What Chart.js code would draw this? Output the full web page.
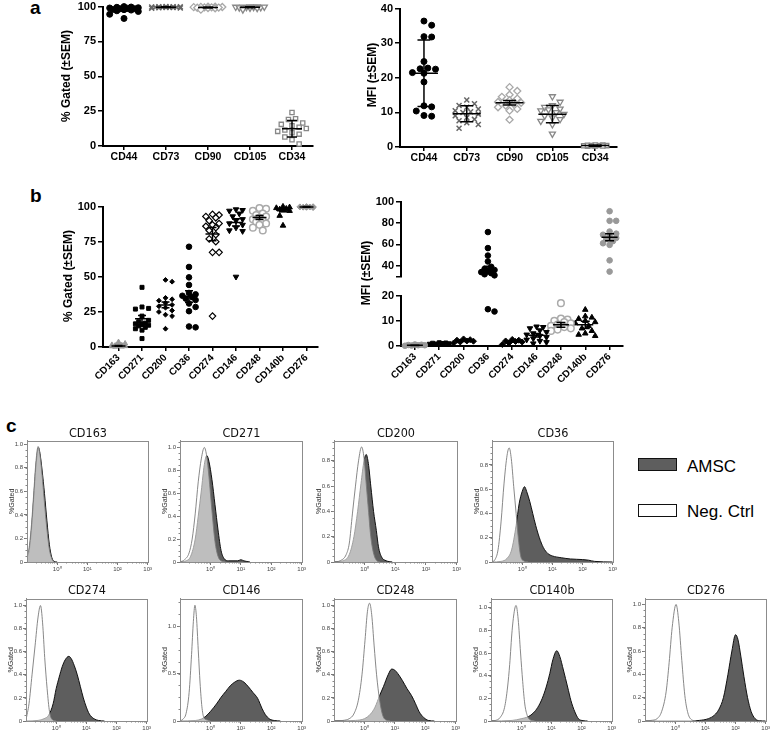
<!DOCTYPE html>
<html>
<head>
<meta charset="utf-8">
<script src="https://cdn.jsdelivr.net/npm/chart.js@4.4.1/dist/chart.umd.min.js"></script>
<style>
  body { margin: 0; background: #fff; font-family: Arial, 'Liberation Sans', sans-serif; }
  #stage { position: relative; width: 778px; height: 734px; overflow: hidden; background: #fff; }
  #stage canvas { position: absolute; }
  .lbl { position: absolute; white-space: nowrap; line-height: 1; color: #000; }
  .ytitle { font-weight: bold; font-size: 12px; transform: translate(-50%, -50%) rotate(-90deg); }
  .panel { font-weight: bold; font-size: 19px; }
  .htitle { font-family: 'Liberation Sans Narrow', 'DejaVu Sans Condensed', 'Open Sans', sans-serif; font-size: 12.5px; transform: translate(-50%, -50%); color: #111; }
  .swatch { position: absolute; width: 37px; height: 11px; border: 1.5px solid #111; }
  .legtxt { font-size: 17px; transform: translateY(-50%); }
</style>
</head>
<body>
<div id="stage"></div>
<script>
const stage = document.getElementById('stage');
Chart.defaults.font.family = "Arial, 'Liberation Sans', sans-serif";
Chart.defaults.color = '#000';

// ---- panel a ----
const aCats = ['CD44', 'CD73', 'CD90', 'CD105', 'CD34'];
const gatedTicks = [0, 25, 50, 75, 100];
const aGated = [
  [100, 99.5, 99.2, 99, 98.8, 98.5, 98.5, 98, 97.8, 97.5, 97, 99.7, 96.5, 94.5, 91.5],
  [100, 99.9, 99.8, 99.7, 99.6, 99.5, 99.5, 99.4, 99.3, 99.2, 99, 98.8, 99.9, 99.6],
  [100, 99.9, 99.8, 99.6, 99.5, 99.4, 99.2, 99, 98.8, 99.7, 99.3, 97.8],
  [100, 99.9, 99.8, 99.7, 99.5, 99.4, 99.3, 99.1, 98.9, 99.6, 99.8, 97.8],
  [24, 19.5, 19, 16.5, 15.5, 14.5, 13.5, 12.5, 11.5, 10.5, 9.5, 8.5, 6.5, 4.5, 1.5]
];
const aGatedMean = [98, 99.6, 99.4, 99.5, 12.4];
const aGatedErr = [1.2, 0.3, 0.4, 0.4, 5.9];

const aMfiTicks = [0, 10, 20, 30, 40];
const aMfi = [
  [36.4, 35.2, 31.9, 31.8, 24.7, 22.8, 22.6, 22.5, 21.5, 21.3, 18.8, 11.9, 11.6, 10.4, 9.1, 8.9],
  [13.6, 12.5, 12, 11.5, 11, 10.5, 10.2, 10, 9.5, 9, 8.5, 8, 7.6, 7, 6.5, 5.4],
  [17.3, 16.2, 15.1, 14.5, 14, 13.5, 13, 12.8, 12.5, 12, 11.5, 11, 10.5, 7.9],
  [14.6, 13, 12, 11.5, 11, 10.8, 10.5, 10, 9.5, 9, 8.5, 8, 7.5, 6.5, 3.8],
  [0.2, 0.3, 0.35, 0.4, 0.45, 0.5, 0.55, 0.6, 0.3, 0.4]
];
const aMfiMean = [21.3, 9.6, 12.8, 9.5, 0.4];
const aMfiErr = [9.6, 2.3, 0.65, 2.5, 0.2];

// ---- panel b ----
const bCats = ['CD163', 'CD271', 'CD200', 'CD36', 'CD274', 'CD146', 'CD248', 'CD140b', 'CD276'];
const bGated = [
  [3.5, 2.5, 1.5, 1, 0.8, 0.5, 0.3, 0.2, 0.6, 1.2],
  [42.5, 28.5, 27.5, 27, 22, 19, 18, 17, 16.5, 16, 15.5, 15, 14, 13, 12, 6],
  [47.8, 46.5, 35, 34, 33, 31.5, 30, 29, 28, 26, 25, 23, 22, 13],
  [71.4, 57, 49.6, 44.2, 38.5, 37.5, 36.5, 35.5, 34.5, 33.5, 31, 28.5, 25.5, 14.6, 14],
  [94.5, 94, 93, 92, 90, 88, 87, 86, 85, 83, 80, 77, 75, 67.4, 67.4, 22],
  [98, 97.5, 97, 95, 93, 91, 90, 88, 87, 85, 83, 82.5, 50],
  [99, 98.5, 97, 95, 94, 93, 92, 91, 90, 89, 88, 87, 85, 83],
  [100, 99.5, 99, 98.5, 98, 97.5, 97, 93.5, 86.5],
  [100, 99.8, 99.6, 99.5, 99.3, 99.9, 99.7]
];
const bGatedMean = [0.8, 20.1, 30, 35.9, 80.4, 88.7, 92.2, 97.6, 99.8];
const bGatedErr = [0.3, 2.4, 2, 4.1, 4.7, 2.6, 1.4, 1.2, 0.2];

const bMfiUpperTicks = [40, 60, 80, 100];
const bMfiLowerTicks = [0, 5, 10, 15, 20];
const bMfi = [
  [0.1, 0.2, 0.3, 0.4, 0.5, 0.6, 0.3],
  [0.7, 0.9, 1.0, 1.1, 1.2, 1.3, 0.8],
  [1.2, 1.6, 2.0, 2.3, 2.5, 2.8, 1.9],
  [71.5, 56.5, 49.5, 44, 39, 37, 36, 35, 34, 33, 32, 31, 14.6, 13.7],
  [0.6, 1.2, 1.6, 2.0, 2.3, 2.6, 1.8],
  [7.7, 7.5, 7, 6.2, 5.5, 5, 4.5, 4, 3.5, 3, 2.5, 2, 1.5, 1],
  [17, 10.9, 10.5, 10, 9.5, 9, 8.5, 8, 7.5, 7, 6.5, 6],
  [14.4, 11.8, 11.3, 10.8, 10, 9.5, 9, 8, 7, 6, 5, 4.5, 4],
  [91, 82, 82, 72, 70, 69, 68, 66, 65, 63, 61, 59.5, 45, 34.5]
];
const bMfiMean = [0.3, 1.0, 2.1, 36, 1.8, 4.3, 8.4, 8.4, 66.7];
const bMfiErr = [0.1, 0.1, 0.3, 3.6, 0.3, 0.7, 0.95, 1.45, 3.3];

// ---- panel c: histograms, [log10 intensity, fraction] ----
const logTicks = [0, 1, 2, 3];
const yTicks1 = [0, 0.2, 0.4, 0.6, 0.8, 1];
const yTicks08 = [0, 0.2, 0.4, 0.6, 0.8];
const yTicks05 = [0, 0.5, 1];

const negCD163 = [[-1,0.04],[-0.92,0.14],[-0.85,0.32],[-0.78,0.57],[-0.7,0.86],[-0.63,0.98],[-0.58,0.93],[-0.5,0.74],[-0.42,0.5],[-0.34,0.28],[-0.26,0.11],[-0.18,0.03],[-0.1,0]];
const amscCD163 = [[-1,0.03],[-0.92,0.11],[-0.85,0.28],[-0.78,0.53],[-0.7,0.82],[-0.62,0.97],[-0.57,0.92],[-0.5,0.78],[-0.42,0.58],[-0.34,0.35],[-0.26,0.15],[-0.18,0.04],[-0.1,0.005],[0,0]];
const negCD271 = [[-1,0],[-0.85,0.02],[-0.7,0.08],[-0.6,0.2],[-0.5,0.42],[-0.4,0.7],[-0.3,0.9],[-0.2,1.0],[-0.12,0.92],[-0.05,0.75],[0.05,0.45],[0.15,0.18],[0.25,0.05],[0.35,0.01],[0.5,0]];
const amscCD271 = [[-1,0],[-0.8,0.01],[-0.65,0.05],[-0.5,0.2],[-0.4,0.4],[-0.3,0.62],[-0.2,0.85],[-0.12,0.93],[-0.05,0.88],[0.05,0.72],[0.15,0.5],[0.25,0.28],[0.35,0.1],[0.45,0.03],[0.6,0.01],[0.9,0.01],[1.0,0.02],[1.1,0.01],[1.3,0]];
const negCD200 = [[-1,0],[-0.8,0.01],[-0.6,0.06],[-0.5,0.15],[-0.4,0.38],[-0.3,0.6],[-0.2,0.8],[-0.1,0.91],[-0.02,0.82],[0.05,0.62],[0.12,0.42],[0.2,0.2],[0.3,0.06],[0.4,0.01],[0.5,0]];
const amscCD200 = [[-1,0],[-0.7,0.01],[-0.5,0.06],[-0.35,0.2],[-0.23,0.4],[-0.12,0.62],[-0.02,0.8],[0.05,0.85],[0.12,0.78],[0.2,0.6],[0.29,0.4],[0.38,0.25],[0.45,0.12],[0.55,0.04],[0.7,0.01],[0.9,0]];
const negCD36 = [[-1,0],[-0.9,0.02],[-0.8,0.1],[-0.7,0.33],[-0.6,0.65],[-0.5,0.88],[-0.43,0.94],[-0.36,0.85],[-0.28,0.62],[-0.2,0.4],[-0.12,0.18],[-0.05,0.05],[0.05,0.01],[0.2,0]];
const amscCD36 = [[-1,0],[-0.7,0.005],[-0.5,0.03],[-0.35,0.1],[-0.2,0.3],[-0.1,0.48],[0,0.58],[0.08,0.62],[0.15,0.58],[0.25,0.5],[0.35,0.4],[0.45,0.3],[0.57,0.2],[0.7,0.12],[0.85,0.07],[1.0,0.05],[1.3,0.035],[1.6,0.025],[2.0,0.02],[2.2,0.015],[2.4,0.005],[3,0]];
const negCD274 = [[-1,0.01],[-0.9,0.15],[-0.8,0.4],[-0.7,0.65],[-0.6,0.9],[-0.52,1.0],[-0.45,0.85],[-0.38,0.55],[-0.3,0.28],[-0.22,0.08],[-0.12,0.01],[0,0]];
const amscCD274 = [[-1,0],[-0.6,0.005],[-0.4,0.02],[-0.25,0.05],[-0.1,0.15],[0,0.28],[0.1,0.38],[0.2,0.47],[0.3,0.53],[0.42,0.56],[0.5,0.54],[0.6,0.48],[0.7,0.4],[0.8,0.3],[0.9,0.2],[1.0,0.12],[1.1,0.06],[1.25,0.02],[1.4,0.005],[1.6,0]];
const negCD146 = [[-1,0],[-0.9,0.02],[-0.8,0.08],[-0.7,0.3],[-0.62,0.7],[-0.56,1.05],[-0.51,1.22],[-0.46,1.1],[-0.4,0.75],[-0.34,0.4],[-0.28,0.15],[-0.22,0.04],[-0.1,0.01],[0,0]];
const amscCD146 = [[-1,0],[-0.5,0.005],[-0.3,0.02],[-0.15,0.05],[0,0.1],[0.2,0.18],[0.35,0.25],[0.5,0.31],[0.65,0.37],[0.8,0.41],[0.95,0.43],[1.1,0.41],[1.25,0.36],[1.4,0.3],[1.55,0.24],[1.7,0.13],[1.8,0.07],[1.95,0.02],[2.1,0.005],[2.3,0]];
const negCD248 = [[-1,0],[-0.7,0.005],[-0.5,0.02],[-0.35,0.06],[-0.2,0.18],[-0.08,0.4],[0.02,0.7],[0.1,0.95],[0.17,1.02],[0.24,0.92],[0.32,0.65],[0.4,0.4],[0.5,0.18],[0.6,0.05],[0.7,0.01],[0.85,0]];
const amscCD248 = [[-1,0],[-0.3,0.005],[0,0.02],[0.2,0.06],[0.35,0.12],[0.5,0.22],[0.63,0.3],[0.78,0.4],[0.9,0.45],[1.0,0.44],[1.1,0.41],[1.25,0.35],[1.4,0.28],[1.55,0.22],[1.68,0.15],[1.8,0.08],[1.95,0.03],[2.1,0.005],[2.3,0]];
const negCD140b = [[-1,0],[-0.85,0.005],[-0.7,0.03],[-0.55,0.12],[-0.45,0.3],[-0.38,0.5],[-0.3,0.8],[-0.22,0.98],[-0.17,1.02],[-0.1,0.9],[-0.02,0.6],[0.05,0.35],[0.12,0.15],[0.2,0.05],[0.3,0.01],[0.45,0]];
const amscCD140b = [[-1,0],[-0.3,0.005],[0,0.02],[0.25,0.04],[0.4,0.07],[0.55,0.12],[0.7,0.2],[0.83,0.3],[0.95,0.42],[1.05,0.54],[1.18,0.62],[1.28,0.57],[1.4,0.45],[1.54,0.3],[1.65,0.18],[1.78,0.08],[1.9,0.02],[2.05,0.003],[2.2,0]];
const negCD276 = [[-1,0],[-0.8,0.005],[-0.6,0.02],[-0.45,0.08],[-0.3,0.25],[-0.2,0.5],[-0.1,0.8],[0.03,1.0],[0.12,0.85],[0.22,0.52],[0.32,0.22],[0.42,0.07],[0.55,0.01],[0.7,0]];
const amscCD276 = [[-1,0],[0.5,0],[0.8,0.005],[1.1,0.02],[1.3,0.05],[1.45,0.1],[1.6,0.2],[1.75,0.4],[1.88,0.6],[2.0,0.74],[2.08,0.7],[2.18,0.55],[2.28,0.38],[2.4,0.2],[2.52,0.08],[2.65,0.02],[2.8,0.002],[3,0]];

// marker styles per category
const aStyles = [
  { ps: 'circle', fill: '#000', stroke: '#000', r: 3 },
  { ps: 'crossRot', fill: '#666', stroke: '#666', r: 3.5, bw: 1.5 },
  { ps: 'rectRot', fill: '#fff', stroke: '#a8a8a8', r: 3.5, bw: 1.3 },
  { ps: 'triangle', rot: 180, fill: '#fff', stroke: '#888', r: 3.5, bw: 1.3 },
  { ps: 'rect', fill: '#fff', stroke: '#888', r: 3, bw: 1.3 }
];
const bGatedStyles = [
  { ps: 'triangle', fill: '#999', stroke: '#999', r: 3 },
  { ps: 'rect', fill: '#000', stroke: '#000', r: 2.8 },
  { ps: 'rectRot', fill: '#000', stroke: '#000', r: 2.4 },
  { ps: 'circle', fill: '#000', stroke: '#000', r: 2.8 },
  { ps: 'rectRot', fill: '#fff', stroke: '#000', r: 3.2, bw: 1.2 },
  { ps: 'triangle', rot: 180, fill: '#000', stroke: '#000', r: 3.2 },
  { ps: 'circle', fill: '#fff', stroke: '#aaa', r: 3.3, bw: 1.5 },
  { ps: 'triangle', fill: '#000', stroke: '#000', r: 3.2 },
  { ps: 'rectRot', fill: '#999', stroke: '#999', r: 3 }
];
const bMfiStyles = [
  { ps: 'circle', fill: '#999', stroke: '#999', r: 2.8 },
  { ps: 'rect', fill: '#000', stroke: '#000', r: 2.8 },
  { ps: 'rectRot', fill: '#000', stroke: '#000', r: 3 },
  { ps: 'circle', fill: '#000', stroke: '#000', r: 2.8 },
  { ps: 'rectRot', fill: '#000', stroke: '#000', r: 3 },
  { ps: 'triangle', rot: 180, fill: '#000', stroke: '#000', r: 3.2 },
  { ps: 'circle', fill: '#fff', stroke: '#aaa', r: 3.3, bw: 1.5 },
  { ps: 'triangle', fill: '#000', stroke: '#000', r: 3.2 },
  { ps: 'circle', fill: '#999', stroke: '#999', r: 2.8 }
];

// mean line + error bar for each category
const meanBars = {
  id: 'meanBars',
  afterDatasetsDraw(chart, args, o) {
    if (!o || !o.means) return;
    const { ctx, scales: { x, y } } = chart;
    ctx.save();
    ctx.strokeStyle = '#000';
    ctx.lineWidth = 1.5;
    o.means.forEach((m, i) => {
      if (m < o.range[0] || m > o.range[1]) return;
      const cx = x.getPixelForValue(i), my = y.getPixelForValue(m);
      const ty = y.getPixelForValue(m + o.errs[i]), by = y.getPixelForValue(m - o.errs[i]);
      ctx.beginPath();
      ctx.moveTo(cx - o.half, my); ctx.lineTo(cx + o.half, my);
      ctx.moveTo(cx, ty); ctx.lineTo(cx, by);
      ctx.moveTo(cx - o.cap, ty); ctx.lineTo(cx + o.cap, ty);
      ctx.moveTo(cx - o.cap, by); ctx.lineTo(cx + o.cap, by);
      ctx.stroke();
    });
    ctx.restore();
  }
};
// box and minor ticks around histogram plots
const frame = {
  id: 'frame',
  afterDraw(chart, args, o) {
    if (!o || !o.on) return;
    const { ctx, chartArea: ca, scales: { x, y } } = chart;
    ctx.save();
    ctx.strokeStyle = '#8c8c8c';
    ctx.lineWidth = 1;
    ctx.strokeRect(Math.round(ca.left) + 0.5, Math.round(ca.top) + 0.5, Math.round(ca.right - ca.left), Math.round(ca.bottom - ca.top));
    ctx.strokeStyle = '#888';
    ctx.beginPath();
    for (let d = -1; d < 3; d++) {
      for (let k = 2; k < 10; k++) {
        const px = Math.round(x.getPixelForValue(d + Math.log10(k))) + 0.5;
        ctx.moveTo(px, ca.bottom); ctx.lineTo(px, ca.bottom + 1.5);
      }
    }
    const minor = o.step / 4;
    for (let v = minor; v < y.max; v += minor) {
      const py = Math.round(y.getPixelForValue(v)) + 0.5;
      ctx.moveTo(ca.left, py); ctx.lineTo(ca.left - 1.5, py);
    }
    ctx.stroke();
    ctx.restore();
  }
};
Chart.register(meanBars, frame);

function addText(txt, cls, x, y) {
  const d = document.createElement('div');
  d.className = 'lbl ' + cls;
  d.textContent = txt;
  d.style.left = x + 'px';
  d.style.top = y + 'px';
  stage.appendChild(d);
  return d;
}

function addCanvas(left, top, w, h) {
  const cv = document.createElement('canvas');
  cv.width = w; cv.height = h;
  cv.style.left = left + 'px'; cv.style.top = top + 'px';
  stage.appendChild(cv);
  return cv;
}

// simple beeswarm: spread points sideways so markers do not sit on each other
function swarm(vals, pxX, pxY, d, maxHalf) {
  const idx = vals.map((v, i) => i).sort((a, b) => vals[b] - vals[a]);
  const placed = [], offs = [];
  idx.forEach(i => {
    const py = vals[i] * pxY;
    let best = 0, bestGap = -1;
    for (let k = 0; k < 40; k++) {
      const cx = (k % 2 ? 1 : -1) * Math.ceil(k / 2) * d * 0.55;
      if (Math.abs(cx) > maxHalf) break;
      let gap = Infinity;
      placed.forEach(p => { gap = Math.min(gap, Math.hypot(p[0] - cx, p[1] - py)); });
      if (gap >= d) { best = cx; bestGap = gap; break; }
      if (gap > bestGap) { bestGap = gap; best = cx; }
    }
    placed.push([best, py]);
    offs[i] = best / pxX;
  });
  return offs;
}

function dotChart(c) {
  const left = c.box.x0 - c.yW, top = c.box.y0 - c.padT;
  const w = c.box.x1 - left + c.padR;
  const h = c.box.y1 - top + (c.showX ? c.xH : 4);
  const cv = addCanvas(left, top, w, h);
  const pxX = (c.box.x1 - c.box.x0) / (c.xMax - c.xMin);
  const pxY = (c.box.y1 - c.box.y0) / (c.yMax - c.yMin);
  const datasets = c.cats.map((name, i) => {
    const v = c.vals[i].filter(val => val >= c.range[0] && val <= c.range[1]);
    const off = swarm(v, pxX, pxY, c.d, c.maxHalf);
    const s = c.styles[i];
    return {
      label: name,
      data: v.map((val, j) => ({ x: i + off[j], y: val })),
      pointStyle: s.ps, pointRadius: s.r, pointRotation: s.rot || 0,
      backgroundColor: s.fill, borderColor: s.stroke,
      borderWidth: s.bw || 1, pointBorderWidth: s.bw || 1,
      clip: false
    };
  });
  const yT = c.breakTick ? [c.yMin, ...c.yTicks] : c.yTicks;
  new Chart(cv, {
    type: 'scatter',
    data: { datasets },
    options: {
      responsive: false, animation: false,
      layout: { padding: { top: c.padT, right: c.padR, left: 0, bottom: c.showX ? 0 : 4 }, autoPadding: false },
      plugins: {
        legend: { display: false }, tooltip: { enabled: false },
        meanBars: { means: c.means, errs: c.errs, range: c.range, half: c.half, cap: c.cap }
      },
      scales: {
        x: {
          type: 'linear', min: c.xMin, max: c.xMax, display: c.showX,
          afterBuildTicks: s => { s.ticks = c.cats.map((n, i) => ({ value: i })); },
          afterFit: s => { s.height = c.xH; },
          ticks: { autoSkip: false, callback: v => c.cats[v], font: { size: c.xFont, weight: 'bold' }, color: '#000', maxRotation: c.rot, minRotation: c.rot, padding: 1 },
          grid: { drawOnChartArea: false, tickLength: 4, color: '#000', lineWidth: 1.5 },
          border: { color: '#000', width: 2 }
        },
        y: {
          min: c.yMin, max: c.yMax,
          afterBuildTicks: s => { s.ticks = yT.map(v => ({ value: v })); },
          afterFit: s => { s.width = c.yW; },
          ticks: { callback: v => (c.breakTick && v === c.yMin) ? '' : v, font: { size: 11, weight: 'bold' }, color: '#000', padding: 2 },
          grid: { drawOnChartArea: false, tickLength: 5, color: '#000', lineWidth: 1.5 },
          border: { color: '#000', width: 2 }
        }
      }
    }
  });
}

function histChart(box, ymax, yTicks, neg, amsc) {
  const yW = 19, padT = 4, padR = 4, xH = 13;
  const left = box.x0 - yW, top = box.y0 - padT;
  const cv = addCanvas(left, top, box.x1 - left + padR, box.y1 - top + xH);
  const sup = ['\u2070', '\u00b9', '\u00b2', '\u00b3'];
  new Chart(cv, {
    type: 'line',
    data: {
      datasets: [
        { data: neg.map(p => ({ x: p[0], y: p[1] })), borderColor: '#7a7a7a', borderWidth: 0.9, backgroundColor: 'rgba(255,255,255,0.6)', fill: 'origin', pointRadius: 0, cubicInterpolationMode: 'monotone' },
        { data: amsc.map(p => ({ x: p[0], y: p[1] })), borderColor: '#111', borderWidth: 1, backgroundColor: '#5e5e5e', fill: 'origin', pointRadius: 0, cubicInterpolationMode: 'monotone' }
      ]
    },
    options: {
      responsive: false, animation: false,
      layout: { padding: { top: padT, right: padR, left: 0, bottom: 0 }, autoPadding: false },
      plugins: { legend: { display: false }, tooltip: { enabled: false }, frame: { on: true, step: yTicks[1] } },
      scales: {
        x: {
          type: 'linear', min: -1, max: 3,
          afterBuildTicks: s => { s.ticks = logTicks.map(v => ({ value: v })); },
          afterFit: s => { s.height = xH; },
          ticks: { autoSkip: false, maxRotation: 0, callback: v => '10' + sup[v], font: { size: 6 }, color: '#444', padding: 1 },
          grid: { drawOnChartArea: false, tickLength: 3, color: '#777' },
          border: { color: '#8c8c8c' }
        },
        y: {
          min: 0, max: ymax,
          afterBuildTicks: s => { s.ticks = yTicks.map(v => ({ value: v })); },
          afterFit: s => { s.width = yW; },
          ticks: { font: { size: 6 }, color: '#444', padding: 1 },
          grid: { drawOnChartArea: false, tickLength: 3, color: '#777' },
          border: { color: '#8c8c8c' },
          title: { display: true, text: '%Gated', font: { size: 7 }, color: '#333', padding: 0 }
        }
      }
    }
  });
}

// ---- panel a ----
dotChart({ box: { x0: 103, x1: 313, y0: 6, y1: 146 }, xMin: -0.5, xMax: 4.5, yMin: 0, yMax: 100, yTicks: gatedTicks,
  cats: aCats, vals: aGated, means: aGatedMean, errs: aGatedErr, styles: aStyles, range: [-1, 1000],
  showX: true, rot: 0, xFont: 10.5, yW: 32, padT: 8, padR: 8, xH: 28, half: 10, cap: 5, d: 6.5, maxHalf: 15 });
dotChart({ box: { x0: 400, x1: 617, y0: 5, y1: 147 }, xMin: -0.56, xMax: 4.51, yMin: 0, yMax: 40, yTicks: aMfiTicks,
  cats: aCats, vals: aMfi, means: aMfiMean, errs: aMfiErr, styles: aStyles, range: [-1, 1000],
  showX: true, rot: 0, xFont: 10.5, yW: 28, padT: 5, padR: 8, xH: 28, half: 14, cap: 6.5, d: 7, maxHalf: 15 });

// ---- panel b ----
dotChart({ box: { x0: 103, x1: 318, y0: 205.7, y1: 346.7 }, xMin: -0.66, xMax: 8.49, yMin: 0, yMax: 100, yTicks: gatedTicks,
  cats: bCats, vals: bGated, means: bGatedMean, errs: bGatedErr, styles: bGatedStyles, range: [-1, 1000],
  showX: true, rot: 45, xFont: 10, yW: 32, padT: 8, padR: 8, xH: 38, half: 7, cap: 4, d: 6, maxHalf: 9 });
dotChart({ box: { x0: 401, x1: 623, y0: 201, y1: 281.5 }, xMin: -0.57, xMax: 8.55, yMin: 30, yMax: 100, yTicks: bMfiUpperTicks, breakTick: true,
  cats: bCats, vals: bMfi, means: bMfiMean, errs: bMfiErr, styles: bMfiStyles, range: [25, 1000],
  showX: false, rot: 45, xFont: 10, yW: 32, padT: 8, padR: 8, xH: 0, half: 8, cap: 4.5, d: 6, maxHalf: 9 });
dotChart({ box: { x0: 401, x1: 623, y0: 293.3, y1: 346.7 }, xMin: -0.57, xMax: 8.55, yMin: 0, yMax: 20, yTicks: bMfiLowerTicks,
  cats: bCats, vals: bMfi, means: bMfiMean, errs: bMfiErr, styles: bMfiStyles, range: [-1, 25],
  showX: true, rot: 45, xFont: 10, yW: 32, padT: 6, padR: 8, xH: 38, half: 8, cap: 4.5, d: 6, maxHalf: 10 });

// ---- panel c ----
histChart({ x0: 27, x1: 149, y0: 440, y1: 562 }, 1.03, yTicks1, negCD163, amscCD163);
histChart({ x0: 180, x1: 303, y0: 440, y1: 562 }, 1.06, yTicks1, negCD271, amscCD271);
histChart({ x0: 334, x1: 458, y0: 440, y1: 562 }, 0.96, yTicks08, negCD200, amscCD200);
histChart({ x0: 492, x1: 614, y0: 440, y1: 562 }, 1.0, yTicks08, negCD36, amscCD36);
histChart({ x0: 26, x1: 148, y0: 598, y1: 721 }, 1.06, yTicks1, negCD274, amscCD274);
histChart({ x0: 180, x1: 303, y0: 598, y1: 721 }, 1.29, yTicks05, negCD146, amscCD146);
histChart({ x0: 334, x1: 457, y0: 598, y1: 721 }, 1.06, yTicks1, negCD248, amscCD248);
histChart({ x0: 491, x1: 613, y0: 598, y1: 721 }, 1.08, yTicks1, negCD140b, amscCD140b);
histChart({ x0: 645, x1: 767, y0: 598, y1: 721 }, 1.05, yTicks1, negCD276, amscCD276);

// ---- text ----
addText('a', 'panel', 30, -2);
addText('b', 'panel', 30, 186);
addText('c', 'panel', 6, 416);
addText('% Gated (\u00b1SEM)', 'ytitle', 66, 76);
addText('MFI (\u00b1SEM)', 'ytitle', 372, 75);
addText('% Gated (\u00b1SEM)', 'ytitle', 68, 276);
addText('MFI (\u00b1SEM)', 'ytitle', 366, 273);

const histTitles = [['CD163', 88, 432.5], ['CD271', 241.5, 432.5], ['CD200', 396, 432.5], ['CD36', 553, 432.5],
  ['CD274', 87, 590], ['CD146', 241.5, 590], ['CD248', 395.5, 590], ['CD140b', 552, 590], ['CD276', 706, 590]];
histTitles.forEach(t => addText(t[0], 'htitle', t[1], t[2]));

// legend
const sw1 = document.createElement('div');
sw1.className = 'swatch';
sw1.style.cssText = 'left:638px;top:458px;background:#5e5e5e';
stage.appendChild(sw1);
const sw2 = document.createElement('div');
sw2.className = 'swatch';
sw2.style.cssText = 'left:638px;top:504px;background:#fff';
stage.appendChild(sw2);
addText('AMSC', 'legtxt', 687, 466);
addText('Neg. Ctrl', 'legtxt', 687, 511);
</script>
</body>
</html>
